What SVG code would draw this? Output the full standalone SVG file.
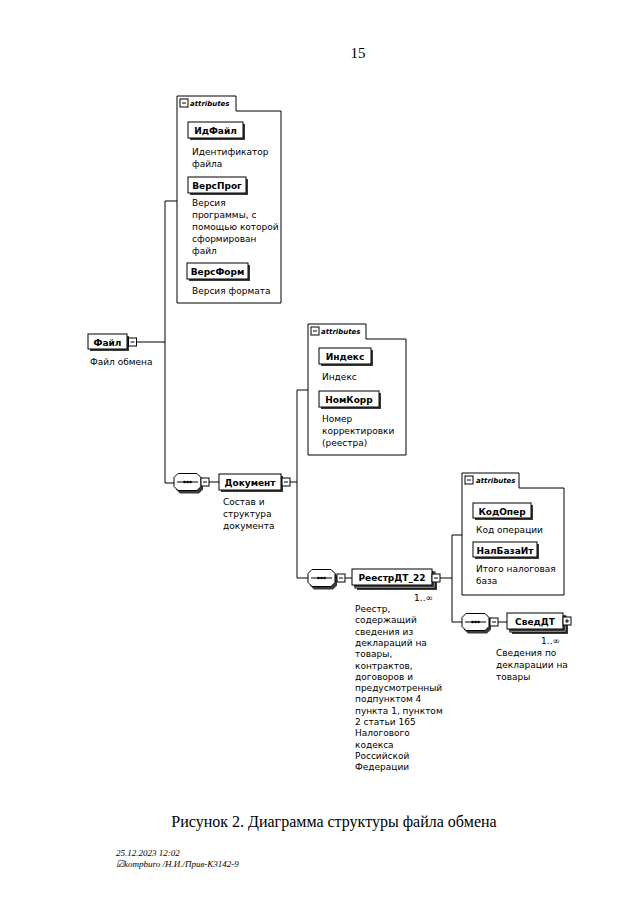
<svg xmlns="http://www.w3.org/2000/svg" width="640" height="905" viewBox="0 0 640 905">
<style>
.ln{stroke:#000;stroke-width:1;fill:none}
.bx{fill:#fff;stroke:#000;stroke-width:1}
.sh{fill:#3a3a3a;stroke:none}
.ab{fill:#fff;stroke:#000;stroke-width:1}
.nm{font-family:"DejaVu Sans",sans-serif;font-weight:bold;font-size:9px;text-anchor:middle}
.ds{font-family:"DejaVu Sans",sans-serif;font-size:9px}
.at{font-family:"DejaVu Sans",sans-serif;font-weight:bold;font-style:italic;font-size:7px}
.oc{font-family:"DejaVu Sans",sans-serif;font-size:9px;text-anchor:end}
.tm{font-family:"Liberation Serif",serif}
</style>
<defs>
<g id="minus"><rect x="0" y="0" width="8" height="8" class="bx"/><path d="M2,4H6" class="ln"/></g>
<g id="plus"><rect x="0" y="0" width="8" height="8" class="bx"/><path d="M2,4H6M4,2V6" class="ln"/></g>
<g id="seq">
<polygon points="7,2 26,2 30,6 30,16 26,20 7,20 3,16 3,6" class="sh"/>
<polygon points="5,0 24,0 28,4 28,13 24,17 5,17 1,13 1,4" class="bx"/>
<path d="M4,8.5H25" class="ln"/>
<circle cx="11.5" cy="8.5" r="1.3" fill="#000"/>
<circle cx="14.5" cy="8.5" r="1.3" fill="#000"/>
<circle cx="17.5" cy="8.5" r="1.3" fill="#000"/>
</g>
</defs>

<text x="358" y="58" class="tm" font-size="15" text-anchor="middle">15</text>

<g id="connectors">
<path d="M137,342H165M165,201V483H175M165,201H177" class="ln"/>
<path d="M209,482H219M290,482H297M297,390V578H308M297,390H308" class="ln"/>
<path d="M345,578H352M440,578H452M452,535V622H462M452,535H462" class="ln"/>
<path d="M498,622H507" class="ln"/>
</g>

<g id="attributes1">
<path d="M177,303V96H236V111H281V303Z" class="ab"/>
<use href="#minus" x="180" y="99"/>
<text x="190" y="106" class="at">attributes</text>
<g id="ИдФайл">
<rect x="190" y="124" width="55" height="16" class="sh"/>
<rect x="188" y="122" width="55" height="16" class="bx"/>
<text x="215.5" y="134" class="nm">ИдФайл</text>
<text x="192" y="155" class="ds">Идентификатор</text>
<text x="192" y="167" class="ds">файла</text>
</g>
<g id="ВерсПрог">
<rect x="190" y="179" width="58" height="16" class="sh"/>
<rect x="188" y="177" width="58" height="16" class="bx"/>
<text x="217" y="189" class="nm">ВерсПрог</text>
<text x="192" y="206" class="ds">Версия</text>
<text x="192" y="218" class="ds">программы, с</text>
<text x="192" y="230" class="ds">помощью которой</text>
<text x="192" y="242" class="ds">сформирован</text>
<text x="192" y="254" class="ds">файл</text>
</g>
<g id="ВерсФорм">
<rect x="189" y="265" width="61" height="16" class="sh"/>
<rect x="187" y="263" width="61" height="16" class="bx"/>
<text x="217.5" y="275" class="nm">ВерсФорм</text>
<text x="192" y="294" class="ds">Версия формата</text>
</g>
</g>

<g id="Файл">
<rect x="90" y="336" width="39" height="15" class="sh"/>
<rect x="88" y="334" width="39" height="15" class="bx"/>
<text x="107.5" y="345.5" class="nm">Файл</text>
<use href="#minus" x="128.5" y="338"/>
<text x="90" y="365" class="ds">Файл обмена</text>
</g>

<g id="seq1"><use href="#seq" x="173" y="473.5"/><use href="#minus" x="201" y="478"/></g>

<g id="Документ">
<rect x="221" y="476" width="62" height="16" class="sh"/>
<rect x="219" y="474" width="62" height="16" class="bx"/>
<text x="250" y="486" class="nm">Документ</text>
<use href="#minus" x="282" y="478"/>
<text x="223" y="505" class="ds">Состав и</text>
<text x="223" y="517" class="ds">структура</text>
<text x="223" y="529" class="ds">документа</text>
</g>

<g id="attributes2">
<path d="M308,455V324H366V339H406V455Z" class="ab"/>
<use href="#minus" x="311" y="327"/>
<text x="321" y="334" class="at">attributes</text>
<g id="Индекс">
<rect x="321" y="350" width="52" height="16" class="sh"/>
<rect x="319" y="348" width="52" height="16" class="bx"/>
<text x="345" y="360" class="nm">Индекс</text>
<text x="322" y="380" class="ds">Индекс</text>
</g>
<g id="НомКорр">
<rect x="321" y="393" width="60" height="16" class="sh"/>
<rect x="319" y="391" width="60" height="16" class="bx"/>
<text x="349" y="403" class="nm">НомКорр</text>
<text x="322" y="422" class="ds">Номер</text>
<text x="322" y="434" class="ds">корректировки</text>
<text x="322" y="446" class="ds">(реестра)</text>
</g>
</g>

<g id="seq2"><use href="#seq" x="307" y="569.5"/><use href="#minus" x="337" y="574"/></g>

<g id="РеестрДТ_22">
<rect x="357" y="574" width="80" height="16" class="sh"/>
<rect x="355" y="572" width="80" height="16" class="bx"/>
<rect x="354" y="571" width="80" height="16" class="sh"/>
<rect x="352" y="569" width="80" height="16" class="bx"/>
<text x="392" y="581" class="nm">РеестрДТ_22</text>
<use href="#minus" x="432" y="574"/>
<text x="433" y="601" class="oc">1..∞</text>
<text x="355" y="612" class="ds">Реестр,</text>
<text x="355" y="623.3" class="ds">содержащий</text>
<text x="355" y="634.6" class="ds">сведения из</text>
<text x="355" y="645.9" class="ds">деклараций на</text>
<text x="355" y="657.2" class="ds">товары,</text>
<text x="355" y="668.5" class="ds">контрактов,</text>
<text x="355" y="679.8" class="ds">договоров и</text>
<text x="355" y="691.1" class="ds">предусмотренный</text>
<text x="355" y="702.4" class="ds">подпунктом 4</text>
<text x="355" y="713.7" class="ds">пункта 1, пунктом</text>
<text x="355" y="725" class="ds">2 статьи 165</text>
<text x="355" y="736.3" class="ds">Налогового</text>
<text x="355" y="747.6" class="ds">кодекса</text>
<text x="355" y="758.9" class="ds">Российской</text>
<text x="355" y="770.2" class="ds">Федерации</text>
</g>

<g id="attributes3">
<path d="M462,595V473H519V488H564V595Z" class="ab"/>
<use href="#minus" x="465" y="476"/>
<text x="476" y="483" class="at">attributes</text>
<g id="КодОпер">
<rect x="475" y="505" width="58" height="15" class="sh"/>
<rect x="473" y="503" width="58" height="15" class="bx"/>
<text x="502" y="514.5" class="nm">КодОпер</text>
<text x="476" y="533" class="ds">Код операции</text>
</g>
<g id="НалБазаИт">
<rect x="475" y="544" width="64" height="15" class="sh"/>
<rect x="473" y="542" width="64" height="15" class="bx"/>
<text x="505" y="553.5" class="nm">НалБазаИт</text>
<text x="476" y="572" class="ds">Итого налоговая</text>
<text x="476" y="584" class="ds">база</text>
</g>
</g>

<g id="seq3"><use href="#seq" x="461" y="613.5"/><use href="#minus" x="490" y="618"/></g>

<g id="СведДТ">
<rect x="512" y="618" width="56" height="16" class="sh"/>
<rect x="510" y="616" width="56" height="16" class="bx"/>
<rect x="509" y="615" width="56" height="16" class="sh"/>
<rect x="507" y="613" width="56" height="16" class="bx"/>
<text x="535" y="625" class="nm">СведДТ</text>
<use href="#plus" x="563" y="617"/>
<text x="560" y="644" class="oc">1..∞</text>
<text x="496" y="656" class="ds">Сведения по</text>
<text x="496" y="668" class="ds">декларации на</text>
<text x="496" y="680" class="ds">товары</text>
</g>

<text x="334" y="827" class="tm" font-size="16" text-anchor="middle">Рисунок 2. Диаграмма структуры файла обмена</text>
<text x="116" y="856" class="tm" font-size="9" font-style="italic">25.12.2023 12:02</text>
<text x="116" y="867" class="tm" font-size="9" font-style="italic">☑kompburo /Н.И./Прив-К3142-9</text>
</svg>
